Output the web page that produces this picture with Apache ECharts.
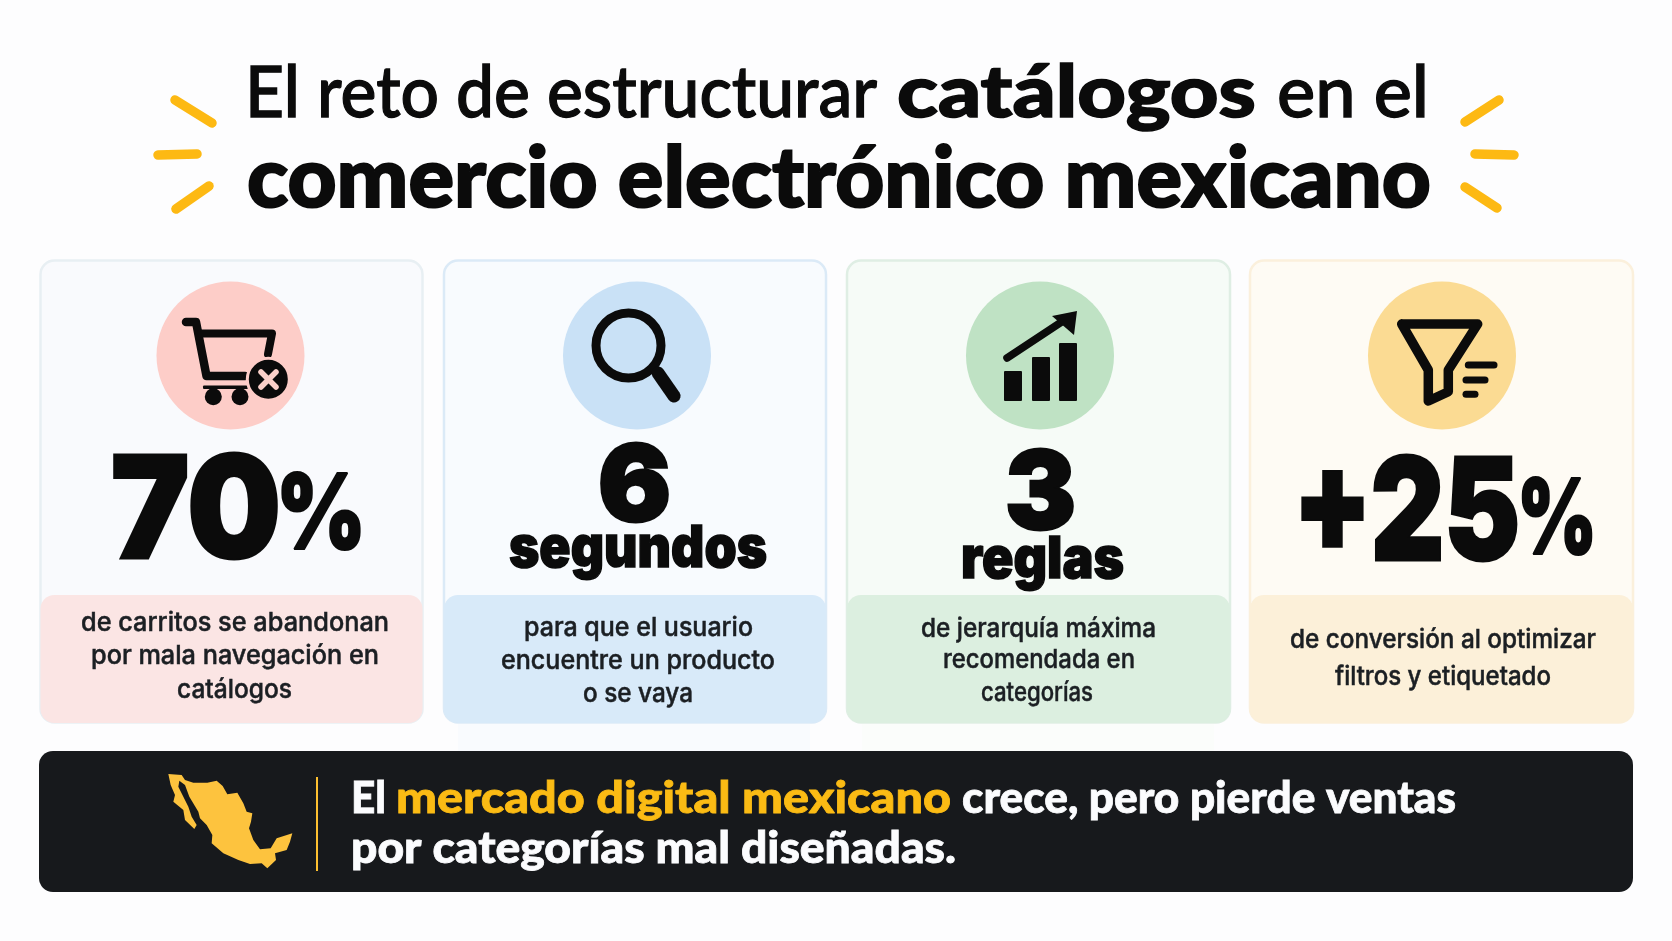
<!DOCTYPE html>
<html><head><meta charset="utf-8">
<style>html,body{margin:0;padding:0;background:#fdfdfe}#c{width:1672px;height:941px}</style>
<script src="https://cdn.jsdelivr.net/npm/echarts@6/dist/echarts.min.js"></script>
</head><body><div id="c"></div>
<script>
// ---- content ----
const titleLine1 = ["El reto de estructurar", "catálogos", "en el"];
const titleLine2 = ["comercio electrónico mexicano"];
const statHeadlines = [["70", "%"], ["6", "segundos"], ["3", "reglas"], ["+25", "%"]];
const statNotes = [
  ["de carritos se abandonan", "por mala navegación en", "catálogos"],
  ["para que el usuario", "encuentre un producto", "o se vaya"],
  ["de jerarquía máxima", "recomendada en", "categorías"],
  ["de conversión al optimizar", "filtros y etiquetado"]
];
const bannerLine1 = ["El", "mercado digital mexicano", "crece, pero pierde ventas"];
const bannerLine2 = ["por categorías mal diseñadas."];

// ---- layout / style ----
const BOLD = 'Lato', REG = 'Lato', NUM = 'Inter', BODY = 'Inter';
const cardBoxes = [[40.5, 382], [444, 382], [847, 383], [1250, 383]];
const cardStyle = [
  {body:'#f9fafd', line:'#e8eff3', foot:'#fbe5e4', disc:'#fdcdc8'},
  {body:'#f8fbfe', line:'#dbeaf7', foot:'#d8eaf9', disc:'#c9e1f6'},
  {body:'#f6fbf7', line:'#dfeee4', foot:'#dcefe0', disc:'#bfe2c4'},
  {body:'#fefbf4', line:'#fbf0dc', foot:'#fcf0d9', disc:'#fbdb93'}
];
const discCx = [230.5, 637, 1040, 1442];
const headlineLayout = [
  [[111,170,558,'900 142px '+NUM,3],[276,90,549,'900 104px '+NUM,2]],
  [[598,73,521,'900 106px '+NUM,3],[509,258,567,'900 58px '+NUM,1.5]],
  [[1005,71,529,'900 108px '+NUM,3],[961,163,578,'900 58px '+NUM,1.5]],
  [[1293,227,560,'900 142px '+NUM,3],[1517,80,554,'900 104px '+NUM,2]]
];
const noteLayout = [
  [[81,308,631],[91,288,664],[177,115,698]],
  [[524,229,636],[501,274,669],[583,110,702]],
  [[921,235,637],[943,192,668],[981,112,701]],
  [[1290,306,648],[1335,216,685]]
];
const INK = '#0b0b0b', AMBER = '#fdb913';

const ctx = document.createElement('canvas').getContext('2d');
function fit(text, font, x, w, baseline, fill, bolden) {
  ctx.font = font; ctx.textBaseline = 'middle';
  const width = ctx.measureText(text).width;
  const off = ctx.measureText('H').actualBoundingBoxDescent;
  const style = {text:text, font:font, fill:fill||INK, textAlign:'left', textVerticalAlign:'middle'};
  if (bolden) { style.stroke = fill||INK; style.lineWidth = bolden; style.lineJoin = 'round'; }
  return {type:'text', x:x, y:baseline-off, scaleX:w/width, z:10, style:style};
}
const els = [];
const add = e => (els.push(e), e);
const stroke = (pts, w, color, z) => add({type:'polyline', z:z||8,
  shape:{points:pts}, style:{stroke:color||INK, lineWidth:w, fill:null, lineCap:'round', lineJoin:'round'}});
const poly = (pts, fill, z) => add({type:'polygon', z:z||8, shape:{points:pts}, style:{fill:fill||INK}});
const rect = (x,y,w,h,fill,z) => add({type:'rect', z:z||8, shape:{x:x,y:y,width:w,height:h,r:1}, style:{fill:fill||INK}});
const disc = (cx,cy,r,fill,z) => add({type:'circle', z:z||8, shape:{cx:cx,cy:cy,r:r}, style:{fill:fill||INK}});

// sparks
[[[175,100],[212,123]],[[158,155],[197,154]],[[176,209],[209,186]],
 [[1465,122],[1499,100]],[[1475,154],[1514,155]],[[1465,187],[1497,208]]]
 .forEach(s => stroke(s, 9.5, AMBER));

// title
els.push(fit(titleLine1[0], '500 72px '+REG, 245, 632, 117, INK, 1.3));
els.push(fit(titleLine1[1], '900 72px '+BOLD, 897, 359, 117, INK, 1.5));
els.push(fit(titleLine1[2], '500 72px '+REG, 1277, 152, 117, INK, 1.3));
els.push(fit(titleLine2[0], '900 84px '+BOLD, 247, 1184, 207, INK, 2));

// faint glow under the middle cards
add({type:'rect', z:0, shape:{x:458,y:724,width:352,height:27}, style:{fill:'#f9fbfe'}});
add({type:'rect', z:0, shape:{x:862,y:724,width:352,height:27}, style:{fill:'#fbfdfb'}});

// cards
cardBoxes.forEach((b,i) => {
  const st = cardStyle[i];
  add({type:'rect', z:1, shape:{x:b[0],y:260.5,width:b[1],height:462,r:14}, style:{fill:st.body, stroke:st.line, lineWidth:2.5}});
  add({type:'rect', z:2, shape:{x:b[0],y:595,width:b[1],height:128,r:14}, style:{fill:st.foot}});
  add({type:'circle', z:3, shape:{cx:discCx[i],cy:355.5,r:74}, style:{fill:st.disc}});
  statHeadlines[i].forEach((t,j) => { const l = headlineLayout[i][j]; els.push(fit(t,l[3],l[0],l[1],l[2],INK,l[4])); });
  statNotes[i].forEach((t,j) => { const l = noteLayout[i][j]; els.push(fit(t,'500 26px '+BODY,l[0],l[1],l[2],'#1b1f23',0.5)); });
});

// cart icon
stroke([[186,322],[196,322],[206.5,376],[245,376]], 8.5);
stroke([[201,333.5],[272,333.5],[268,354]], 8);
rect(203,385.5,45,3.5);
disc(213.3,396.7,8.5); disc(240,396.7,8.5);
add({type:'circle', z:8, shape:{cx:268.3,cy:379.3,r:21}, style:{fill:INK, stroke:'#fdcdc8', lineWidth:3}});
stroke([[261,372],[276,387]], 5.5, '#fbd0c9', 9);
stroke([[276,372],[261,387]], 5.5, '#fbd0c9', 9);

// magnifier icon
add({type:'circle', z:8, shape:{cx:628.5,cy:345.5,r:32.5}, style:{fill:null, stroke:INK, lineWidth:9}});
stroke([[658,373],[674,396]], 13);

// growth icon
rect(1004,371,18,30); rect(1032,357,18,44); rect(1059,343,18,58);
stroke([[1007,358],[1066,319]], 7.5);
poly([[1077,311],[1052,316],[1074,335]]);

// funnel icon
stroke([[1401.7,324],[1477.7,324],[1448.3,370],[1448.3,391.7],[1428.3,401],[1428.3,370],[1401.7,324]], 9.5);
stroke([[1468.3,365],[1494,365]], 7); stroke([[1466,380],[1485,380]], 7); stroke([[1466,394.3],[1475,394.3]], 7);

// banner
add({type:'rect', z:4, shape:{x:39,y:751,width:1594,height:141,r:14}, style:{fill:'#17191c'}});
add({type:'rect', z:5, shape:{x:316,y:777,width:2,height:94}, style:{fill:'#fdc030'}});
const mx = p => p.map(q => [150+q[0]/3, 760+q[1]/3]);
poly(mx([[55,42],[95,45],[105,60],[130,68],[172,68],[200,62],[218,78],[232,103],[262,98],[280,130],[290,155],[307,160],[303,185],[297,205],[310,240],[330,268],[362,265],[380,235],[427,220],[420,245],[410,270],[375,280],[378,300],[352,325],[335,310],[300,312],[265,300],[220,280],[185,250],[187,225],[170,195],[150,175],[145,155],[118,110],[105,75],[88,62],[85,80],[100,110],[115,140],[125,170],[140,195],[133,207],[105,180],[100,150],[70,125],[75,105],[62,75]]), '#fdc33e', 6);
const WHITE = '#fbfcfe', GOLD = '#fbbb14';
els.push(fit(bannerLine1[0], '900 44px '+BOLD, 351, 35, 813, WHITE, 0.8));
els.push(fit(bannerLine1[1], '900 44px '+BOLD, 396, 555, 813, GOLD, 0.8));
els.push(fit(bannerLine1[2], '900 44px '+BOLD, 962, 494, 813, WHITE, 0.8));
els.push(fit(bannerLine2[0], '900 44px '+BOLD, 351, 605, 863, WHITE, 0.8));

const chart = echarts.init(document.getElementById('c'), null, {renderer:'canvas', width:1672, height:941});
chart.setOption({animation:false, backgroundColor:'#fdfdfe', graphic:{elements:els}});
</script></body></html>
